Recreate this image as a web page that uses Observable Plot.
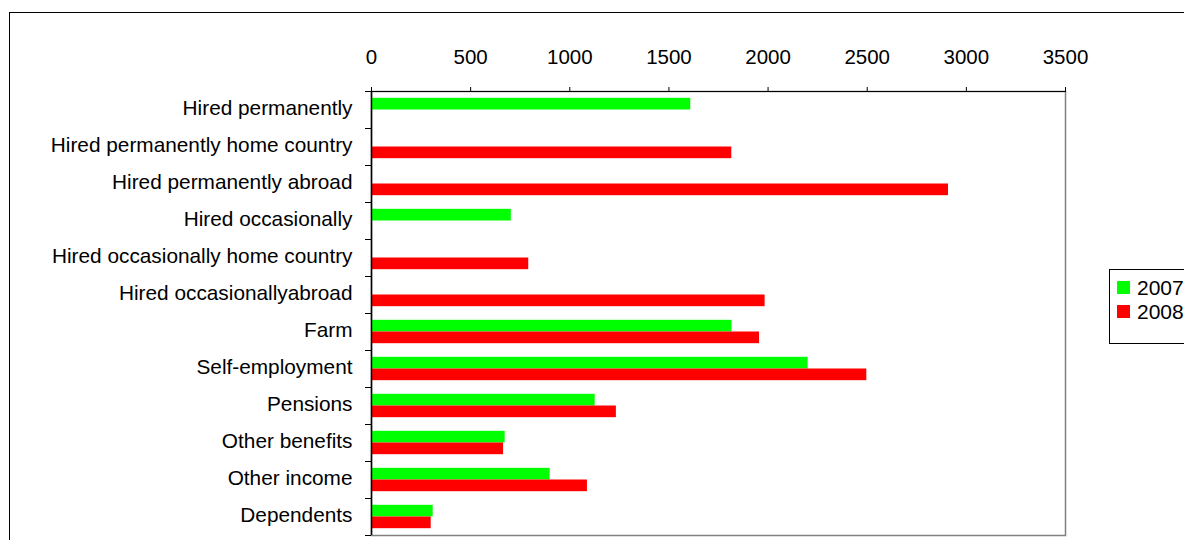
<!DOCTYPE html>
<html>
<head>
<meta charset="utf-8">
<script src="https://cdn.jsdelivr.net/npm/d3@7"></script>
<script src="https://cdn.jsdelivr.net/npm/@observablehq/plot@0.6"></script>
<style>
  html, body { margin: 0; padding: 0; background: #fff; overflow: hidden; width: 1184px; height: 540px; }
  #wrap { position: relative; width: 1184px; height: 540px; overflow: hidden; font-family: "Liberation Sans", Arial, sans-serif; }
  #border { position: absolute; left: 9px; top: 12px; width: 1400px; height: 800px; border: 1px solid #000; box-sizing: border-box; }
  #chart { position: absolute; left: 0; top: 0; }
  #legend { position: absolute; left: 1109px; top: 269px; width: 120px; height: 75px; border: 1px solid #000; box-sizing: border-box; background: #fff; }
  .item { position: absolute; left: 7px; height: 22px; font-size: 21px; line-height: 22px; color: #000; }
  .sw { position: absolute; left: 0; top: 4px; width: 13px; height: 13px; }
  .lab { position: absolute; left: 20px; top: 0; white-space: nowrap; }
</style>
</head>
<body>
<div id="wrap">
  <div id="border"></div>
  <div id="chart"></div>
  <div id="legend"></div>
</div>
<script>
const categories = [
  "Hired permanently",
  "Hired permanently home country",
  "Hired permanently abroad",
  "Hired occasionally",
  "Hired occasionally home country",
  "Hired occasionallyabroad",
  "Farm",
  "Self-employment",
  "Pensions",
  "Other benefits",
  "Other income",
  "Dependents"
];
const values2007 = [1610, null, null, 705, null, null, 1818, 2202, 1128, 674, 901, 311];
const values2008 = [null, 1817, 2910, null, 793, 1985, 1957, 2498, 1235, 666, 1089, 301];
const years = ["2007", "2008"];
const colors = ["#00ff00", "#ff0000"];
const xTicks = [0, 500, 1000, 1500, 2000, 2500, 3000, 3500];

const W = 1184, H = 540;
const mL = 371, mR = 119, mT = 91, mB = 5;
const band = (H - mT - mB) / categories.length;
const pxPerUnit = (W - mL - mR) / 3500;

const d2007 = categories.map((c, i) => ({category: c, value: values2007[i]})).filter(d => d.value != null);
const d2008 = categories.map((c, i) => ({category: c, value: values2008[i]})).filter(d => d.value != null);

const chart = Plot.plot({
  width: W,
  height: H,
  marginLeft: mL,
  marginRight: mR,
  marginTop: mT,
  marginBottom: mB,
  style: {fontFamily: "'Liberation Sans', Arial, sans-serif", fontSize: "20.8px", color: "#000", background: "transparent", overflow: "visible"},
  x: {domain: [0, 3500]},
  y: {domain: categories, padding: 0},
  marks: [
    Plot.frame({stroke: "#808080", strokeWidth: 1.5}),
    Plot.barX(d2007, {x: "value", y: "category", fill: colors[0], insetTop: band * 0.184, insetBottom: band * 0.5}),
    Plot.barX(d2008, {x: "value", y: "category", fill: colors[1], insetTop: band * 0.5, insetBottom: band * 0.184}),
    Plot.ruleX([0], {stroke: "#000", strokeWidth: 1.5}),
    Plot.ruleY([categories[0]], {dy: -band / 2, stroke: "#000", strokeWidth: 1.2}),
    Plot.ruleY(categories, {x1: -6 / pxPerUnit, x2: 0, dy: -band / 2, stroke: "#000"}),
    Plot.ruleY([categories[categories.length - 1]], {x1: -6 / pxPerUnit, x2: 0, dy: band / 2, stroke: "#000"}),
    Plot.axisX({anchor: "top", ticks: xTicks, tickSize: 5, tickPadding: 23, tickFormat: d => String(d), fontSize: 20.5, stroke: "#000", label: null}),
    Plot.axisY({anchor: "left", tickSize: 0, tickPadding: 19, fontSize: 20.8, dy: -2, label: null})
  ]
});
document.getElementById("chart").appendChild(chart);

const legend = document.getElementById("legend");
years.forEach((y, i) => {
  const item = document.createElement("div");
  item.className = "item";
  item.style.top = (7 + i * 24) + "px";
  item.innerHTML = `<div class="sw" style="background:${colors[i]}"></div><div class="lab">${y}</div>`;
  legend.appendChild(item);
});
</script>
</body>
</html>
